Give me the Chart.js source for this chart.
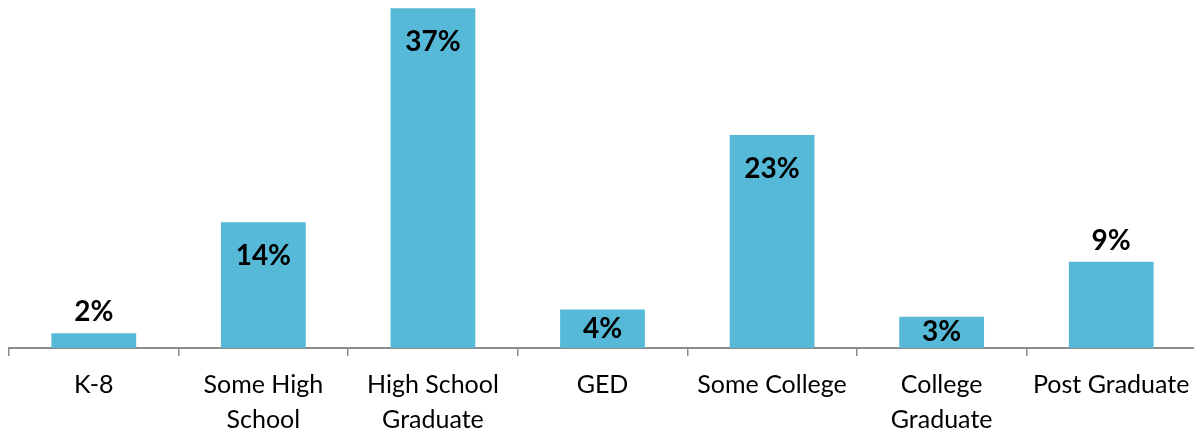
<!DOCTYPE html>
<html>
<head>
<meta charset="utf-8">
<script src="https://cdn.jsdelivr.net/npm/chart.js@4"></script>
<style>
  html, body { margin: 0; padding: 0; background: #fff; overflow: hidden; }
  #wrap { position: absolute; left: 0; top: 0; width: 1196px; height: 432px; }
</style>
</head>
<body>
<div id="wrap"><canvas id="edu"></canvas></div>
<script>
const categories = [
  "K-8",
  ["Some High", "School"],
  ["High School", "Graduate"],
  "GED",
  "Some College",
  ["College", "Graduate"],
  "Post Graduate",
];
const shares = [1.6, 13.7, 37.0, 4.2, 23.2, 3.4, 9.4];
const labelsOutside = [true, false, false, false, false, false, true];

const barColor = "#55b9d7";

// percent labels: above short bars, inside the top of the others
const pctLabels = {
  id: "pctLabels",
  afterDatasetsDraw(chart) {
    const ctx = chart.ctx;
    const meta = chart.getDatasetMeta(0);
    ctx.save();
    ctx.font = "bold 28px Lato";
    ctx.fillStyle = "#000";
    ctx.textAlign = "center";
    ctx.textBaseline = "middle";
    meta.data.forEach((bar, i) => {
      const txt = Math.round(shares[i]) + "%";
      let y;
      if (labelsOutside[i]) {
        y = bar.y - 21;
      } else {
        y = Math.min(bar.y + 34, (bar.y + bar.base) / 2);
      }
      ctx.fillText(txt, bar.x, y);
    });
    ctx.restore();
  },
};

new Chart(document.getElementById("edu"), {
  type: "bar",
  data: {
    labels: categories,
    datasets: [
      {
        data: shares,
        backgroundColor: barColor,
        borderWidth: 0,
        categoryPercentage: 0.5,
        barPercentage: 1,
      },
    ],
  },
  options: {
    responsive: true,
    maintainAspectRatio: false,
    animation: false,
    layout: { padding: { left: 9, right: 0, top: 0, bottom: 0 } },
    plugins: {
      legend: { display: false },
      tooltip: { enabled: false },
    },
    scales: {
      x: {
        grid: {
          offset: true,
          drawOnChartArea: false,
          drawTicks: true,
          tickLength: 8,
          color: "#8c8c8c",
          lineWidth: 1.5,
        },
        border: { color: "#8c8c8c", width: 2 },
        ticks: {
          color: "#000",
          font: { family: "Lato", size: 25, lineHeight: 1.38 },
          padding: 12,
          maxRotation: 0,
          autoSkip: false,
        },
        afterFit(scale) {
          scale.height = 84;
          scale.paddingLeft = 0;
          scale.paddingRight = 0;
        },
      },
      y: {
        display: false,
        min: 0,
        max: 37.9,
      },
    },
  },
  plugins: [pctLabels],
});
</script>
</body>
</html>
